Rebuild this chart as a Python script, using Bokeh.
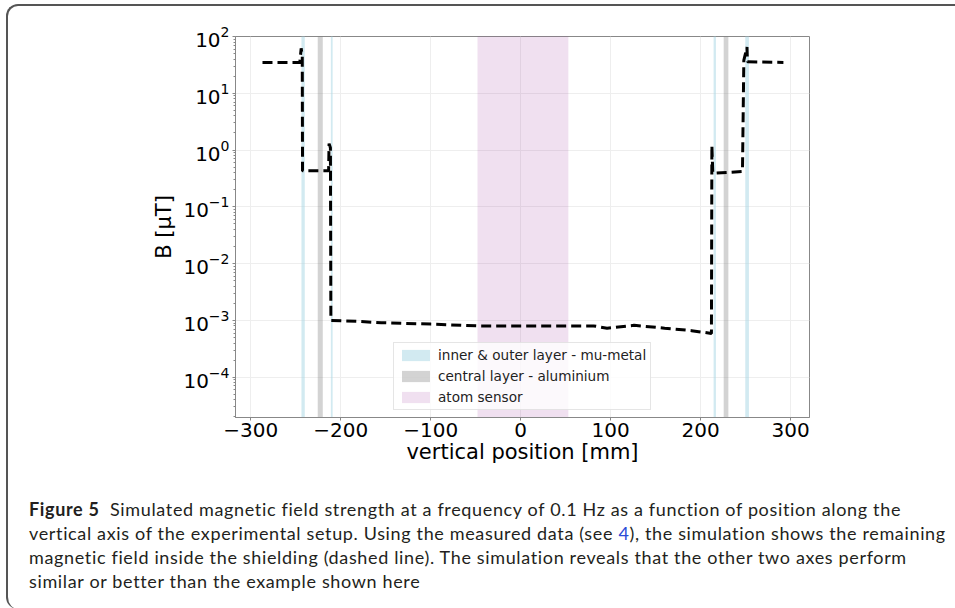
from bokeh.plotting import figure
from bokeh.models import (Range1d, FixedTicker, Legend, LegendItem, Div,
                          LogTickFormatter)
from bokeh.layouts import column
from bokeh.embed import file_html
from bokeh.resources import INLINE

# ---- data ----
pos_mm = [-287, -245.5, -244, -242.8, -242.5, -213.5, -213, -211.5, -211,
          -180, -155, -100, -48, 0, 50, 81, 96, 126, 160, 190, 212,
          212.5, 213.5, 215, 246.5, 248, 251.5, 252, 292]
b_uT = [35, 35, 62, 45, 0.43, 0.43, 1.3, 1.1, 1.0e-3,
        9.6e-4, 9.1e-4, 8.6e-4, 8.0e-4, 8.0e-4, 8.0e-4, 8.0e-4, 7.3e-4,
        8.2e-4, 7.3e-4, 6.6e-4, 5.9e-4,
        1.2, 0.4, 0.39, 0.42, 38, 65, 36, 35]

mu_left = [-243.7, -211.0, 214.4, 249.6]
mu_right = [-240.0, -209.0, 217.0, 253.7]
al_left = [-225.6, 225.6]
al_right = [-220.0, 230.8]
sensor_left = [-48.0]
sensor_right = [53.0]

x_ticks = [-300, -200, -100, 0, 100, 200, 300]
x_tick_labels = ["\u2212300", "\u2212200", "\u2212100", "0", "100", "200", "300"]
y_ticks = [1e-4, 1e-3, 1e-2, 1e-1, 1e0, 1e1, 1e2]

legend_labels = ["inner & outer layer - mu-metal", "central layer - aluminium", "atom sensor"]

caption_lines = [
    "Simulated magnetic field strength at a frequency of 0.1 Hz as a function of position along the",
    "vertical axis of the experimental setup. Using the measured data (see ",
    "), the simulation shows the remaining",
    "magnetic field inside the shielding (dashed line). The simulation reveals that the other two axes perform",
    "similar or better than the example shown here",
]

# ---- figure ----
p = figure(output_backend="svg", toolbar_location=None, y_axis_type="log",
           frame_width=574, frame_height=381,
           min_border_left=227, min_border_right=146, min_border_top=30,
           min_border_bottom=52,
           x_range=Range1d(-317, 321), y_range=Range1d(10 ** -4.71, 100),
           background_fill_color="white", border_fill_color=None)

BOT, TOP = 1e-7, 1e4
r_mu = p.quad(left=mu_left, right=mu_right, bottom=[BOT] * len(mu_left), top=[TOP] * len(mu_left),
              fill_color="lightblue", fill_alpha=0.55, line_color=None)
r_al = p.quad(left=al_left, right=al_right, bottom=[BOT] * len(al_left), top=[TOP] * len(al_left),
              fill_color="gray", fill_alpha=0.35, line_color=None)
r_se = p.quad(left=sensor_left, right=sensor_right, bottom=[BOT], top=[TOP],
              fill_color="purple", fill_alpha=0.12, line_color=None)

p.line(pos_mm, b_uT, line_color="black", line_width=3, line_dash="10 5")

p.outline_line_color = "#888888"
p.outline_line_width = 1

xa = p.xaxis[0]
xa.ticker = FixedTicker(ticks=x_ticks)
xa.major_label_overrides = {t: l for t, l in zip(x_ticks, x_tick_labels)}
xa.axis_label = "vertical position [mm]"
ya = p.yaxis[0]
minor = [m * d for d in [1e-5, 1e-4, 1e-3, 1e-2, 1e-1, 1e0, 1e1] for m in range(2, 10)]
ya.ticker = FixedTicker(ticks=y_ticks, minor_ticks=minor)
ya.formatter = LogTickFormatter()
ya.axis_label = "B [\u03bcT]"

for ax in (xa, ya):
    ax.axis_line_color = "#888888"
    ax.major_tick_line_color = "#888888"
    ax.minor_tick_line_color = "#888888"
    ax.major_tick_out = 3
    ax.major_tick_in = 0
    ax.minor_tick_out = 2
    ax.minor_tick_in = 0
    ax.major_label_text_font = "DejaVu Sans"
    ax.major_label_text_font_size = "20px"
    ax.major_label_text_color = "black"
    ax.axis_label_text_font = "DejaVu Sans"
    ax.axis_label_text_font_size = "21px"
    ax.axis_label_text_font_style = "normal"
    ax.axis_label_text_color = "black"
xa.minor_tick_line_color = None
xa.major_label_standoff = 2
xa.axis_label_standoff = 0
ya.major_label_standoff = 3
ya.axis_label_standoff = 4

p.xgrid.grid_line_color = "#eeeeee"
p.ygrid.grid_line_color = "#eeeeee"
p.xgrid.grid_line_width = 1
p.ygrid.grid_line_width = 1

legend = Legend(items=[LegendItem(label=legend_labels[0], renderers=[r_mu]),
                       LegendItem(label=legend_labels[1], renderers=[r_al]),
                       LegendItem(label=legend_labels[2], renderers=[r_se])],
                location=(158, 7), orientation="vertical",
                label_text_font="DejaVu Sans", label_text_font_size="13.6px",
                label_text_color="#222222",
                glyph_width=35, glyph_height=14, label_height=16,
                label_standoff=5, spacing=5, padding=4, margin=0,
                border_line_color="#cccccc", border_line_width=1,
                background_fill_color="white", background_fill_alpha=0.8)
p.add_layout(legend, "center")

caption_html = (
    '<div style="font-family:Lato,\'Noto Sans\',sans-serif;'
    'font-size:18px;line-height:24px;letter-spacing:0.65px;'
    'color:#231f20;white-space:nowrap;padding:23px 0 0 16px;">'
    '<b>Figure 5</b>&nbsp; ' + caption_lines[0] + '<br>' +
    caption_lines[1] + '<span style="color:#2a4bd7">4</span>' + caption_lines[2] + '<br>' +
    caption_lines[3] + '<br>' + caption_lines[4] + '</div>'
)
cap = Div(text=caption_html, width=940, height=130)

layout = column(p, cap, styles={
    "border-left": "2px solid #555555", "border-top": "2px solid #555555",
    "border-radius": "12px 0 0 12px", "margin": "4px 0 0 6px"})

open("out.html", "w").write(file_html(layout, INLINE))
